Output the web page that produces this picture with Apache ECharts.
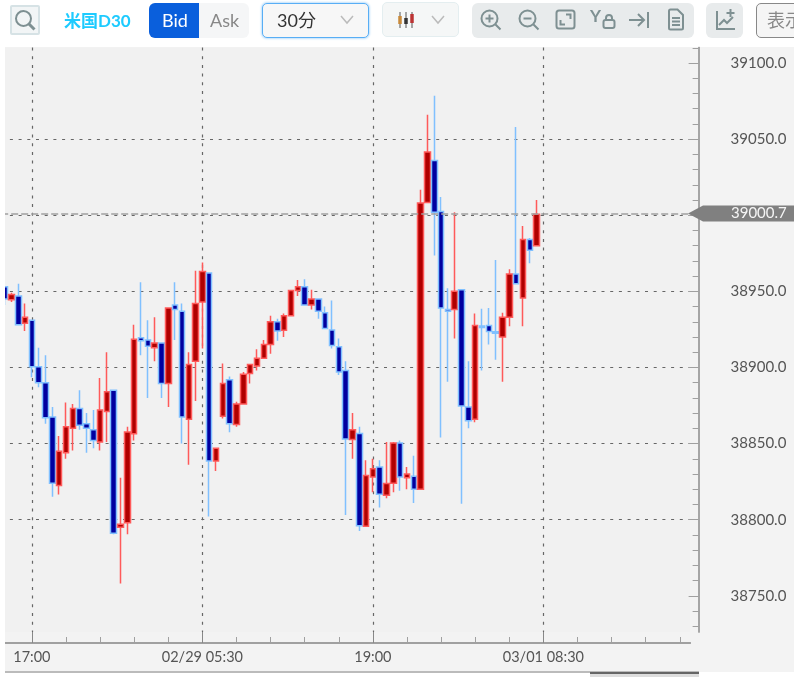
<!DOCTYPE html>
<html>
<head>
<meta charset="utf-8">
<script src="https://cdn.jsdelivr.net/npm/echarts@6/dist/echarts.min.js"></script>
<style>
html, body { margin: 0; padding: 0; background: #fff; overflow: hidden; }
body { width: 794px; height: 677px; position: relative; font-family: Lato, "Noto Sans CJK JP", sans-serif; }
.box { position: absolute; box-sizing: border-box; }
.txt { position: absolute; line-height: 35px; white-space: nowrap; font-size: 18px; }
svg { position: absolute; fill: none; stroke: #7e9092; stroke-width: 2; }
#chart { position: absolute; left: 0; top: 0; width: 794px; height: 677px; }
</style>
</head>
<body>
<div class="box" style="left:0;top:47px;width:794px;height:625px;background:#f3f3f3"></div>
<div id="chart"></div>
<div class="box" style="left:0;top:47px;width:5px;height:630px;background:#fff"></div>
<div class="box" style="left:5px;top:671px;width:694px;height:2px;background:#bbb"></div>
<div class="box" style="left:590px;top:672px;width:109px;height:5px;background:#ddd;border-top:2px solid #666"></div>

<!-- toolbar -->
<div class="box" style="left:10px;top:5px;width:30px;height:30px;background:#f2f5f6;border:2px solid #d6e2e5;border-radius:2px"></div>
<svg style="left:14px;top:9px" width="22" height="22"><circle cx="9.5" cy="9.5" r="7.5"/><path d="M15 15l5.5 5.5" stroke-width="3"/></svg>
<div class="txt" style="left:64px;top:3px;color:#1ecbff;font-weight:700;font-size:17px">米国D30</div>
<div class="box" style="left:149px;top:3px;width:100px;height:35px;background:#f5f6f7;border-radius:6px"></div>
<div class="box" style="left:149px;top:3px;width:50px;height:35px;background:#0a5fdc;border-radius:6px 0 0 6px"></div>
<div class="txt" style="left:162px;top:3px;color:#fff">Bid</div>
<div class="txt" style="left:210px;top:3px;color:#888">Ask</div>
<div class="box" style="left:262px;top:3px;width:107px;height:35px;background:#f7f7f7;border:1px solid #58aef5;border-radius:5px;box-shadow:0 0 2px 1px #bfe0fb"></div>
<div class="txt" style="left:277px;top:3px;color:#333">30分</div>
<svg style="left:340px;top:15px;stroke:#bbb;stroke-width:1.5" width="14" height="10"><path d="M1 1l6 7 6-7"/></svg>
<div class="box" style="left:382px;top:2px;width:77px;height:35px;background:#f5f7f7;border:1px solid #e4eef0;border-radius:5px"></div>
<svg style="left:397px;top:10px" width="18" height="20"><path d="M3 2v16M9 2v16M15 2v16" stroke="#555" stroke-width="1"/><path d="M3 6v8" stroke="#c98a3a" stroke-width="3.5"/><path d="M9 8v6" stroke="#333" stroke-width="3.5"/><path d="M15 4v9" stroke="#b33" stroke-width="3.5"/></svg>
<svg style="left:431px;top:15px;stroke:#bbb;stroke-width:1.5" width="14" height="10"><path d="M1 1l6 7 6-7"/></svg>
<div class="box" style="left:472px;top:3px;width:222px;height:35px;background:#e8ebec;border-radius:6px"></div>
<svg style="left:480px;top:9px" width="22" height="22"><circle cx="9.5" cy="9.5" r="8"/><path d="M15.5 15.5l5 5M5.5 9.5h8M9.5 5.5v8"/></svg>
<svg style="left:518px;top:9px" width="22" height="22"><circle cx="9.5" cy="9.5" r="8"/><path d="M15.5 15.5l5 5M5.5 9.5h8"/></svg>
<svg style="left:555px;top:9px" width="21" height="21"><rect x="1.5" y="1.5" width="18" height="18" rx="2.5"/><path d="M11 5.5h4.5V10M5.5 11v4.5H10"/></svg>
<div class="txt" style="left:590px;top:-2px;color:#7e9092;font-size:17px;font-weight:700">Y</div>
<svg style="left:602px;top:14px" width="14" height="15"><rect x="1.5" y="6" width="11" height="8" rx="2"/><path d="M4 6V4a3 3 0 0 1 6 0v2"/></svg>
<svg style="left:628px;top:10px" width="22" height="20"><path d="M1 10h15M10 4l6 6-6 6M20 2v16"/></svg>
<svg style="left:667px;top:8px" width="18" height="23"><path d="M2 3a1.5 1.5 0 0 1 1.5-1.5h7l5.5 5.5v13a1.5 1.5 0 0 1-1.5 1.5h-11A1.5 1.5 0 0 1 2 20zM5 10h8M5 13.5h8M5 17h8"/></svg>
<div class="box" style="left:706px;top:3px;width:37px;height:35px;background:#e8ebec;border-radius:6px"></div>
<svg style="left:715px;top:8px" width="21" height="23"><path d="M2 3v18h18M4 17l5-5 3 3 6-6M15.5 1v8M11.5 5h8"/></svg>
<div class="box" style="left:756px;top:3px;width:60px;height:35px;background:#f5f5f5;border:1px solid #888;border-radius:5px"></div>
<div class="txt" style="left:767px;top:3px;color:#888">表示</div>

<script>
// 30 minute bars
var opens = [38953,38944.5,38947,38929,38931,38900.5,38890,38867.5,38822.4,38844,38860,38873,38863,38859,38851,38871,38885,38795,38798,38856.5,
  38919.5,38918,38913,38916,38889.5,38941,38937,38866,38904,38943,38962,38838.5,38868,38892,38862.5,38876,38896,38901,38906,38915,
  38930,38924.5,38934,38950.5,38953,38941,38945,38936,38924.6,38913.6,38898,38852.6,38856.6,38795.6,38828,38834.6,38816,38824,38850.4,38827.6,
  38828.5,38820,39008.3,39036,39002.4,38938,38938,38951,38874,38866,38927.2,38927.6,38923.5,38920,38933,38961.4,38945.6,38984,38980];
var closes = [38945,38948,38928,38933,38900.5,38890,38867,38824,38845,38861,38873,38862,38860,38852,38872,38884,38791,38797,38857.6,38918.5,
  38917.5,38914,38916,38889.5,38939,38938,38867.5,38902,38942,38963,38838.6,38847,38889.5,38863,38876,38895.6,38902,38906,38915,38930,
  38924,38934,38950.5,38953,38941,38945,38937,38925.6,38914.5,38897,38853,38859,38796,38829,38833.5,38816.7,38823.7,38850.4,38828,38830,
  38820,39008,39041.5,39002,38939,38937,38950,38874.6,38865,38927.6,38926.3,38923.7,38922.4,38933,38961.4,38955,38984,38977,39000.7];
var lows = [38941,38943,38928,38924,38893.5,38887,38863,38815,38816.5,38840,38845.5,38859,38844,38847,38845.5,38851,38790.5,38758,38790.5,38852,
  38908,38880,38904,38880,38874,38918,38850,38836,38878,38912.5,38802,38832,38866.5,38857.5,38861,38876,38889.5,38898,38906,38909,
  38917.5,38920,38934,38947,38941,38938,38932,38925.6,38912.5,38895,38803,38840,38792.5,38795.6,38818,38808,38814,38818,38819,38820,
  38811,38820,39008.3,38973.5,38854,38890.6,38919,38810.5,38860,38864,38898,38915,38905,38890.6,38927,38955,38927,38968.4,38980];
var highs = [38953,38949,38955,38942,38931,38913,38908,38874,38855,38877,38876,38885,38870,38872,38893,38910,38885.5,38827.5,38861,38928,
  38956,38931,38933,38916,38939,38956,38942,38910,38963.6,38969,38962,38847,38902.6,38894,38877.4,38897,38902,38912,38918,38934,
  38932,38935.5,38950.5,38957.5,38958,38951,38945,38940,38944,38919,38904,38870,38861,38839,38840,38839,38851,38851,38852,38834.6,
  38842,39016.7,39066,39078.5,39012,38952,39002,38951,38904,38935.5,38938.6,38939,38970.6,38936,38964.5,39058,38993,38985,39010];
var lastPrice = 39000.7;
var timeLabels = { 4: '17:00', 29: '02/29 05:30', 54: '19:00', 79: '03/01 08:30' };
var yTicks = [38750, 38800, 38850, 38900, 38950, 39000, 39050, 39100];
var yMinorTicks = [38730,38740,38760,38770,38780,38790,38810,38820,38830,38840,38860,38870,38880,38890,38910,38920,38930,38940,
  38960,38970,38980,38990,39010,39020,39030,39040,39060,39070,39080,39090,39110];
var barCount = 101;

var categories = [];
for (var i = 0; i < barCount; i++) categories.push(timeLabels[i] || String(i));
var candles = opens.map(function (o, i) { return [o, closes[i], lows[i], highs[i]]; });

var yMin = 38726.2, yMax = 39110.2;
var fontName = 'Lato';
var tickGrey = '#a0a0a0';
var isMajor = function (i) { return i % 25 === 4; };

var chart = echarts.init(document.getElementById('chart'));
chart.setOption({
  animation: false,
  grid: { left: 1.2, width: 688.82, top: 47.5, height: 584.5, show: true, backgroundColor: '#f1f1f1', borderWidth: 0 },
  xAxis: [
    {
      type: 'category', data: categories, position: 'bottom', offset: 11,
      axisLine: { show: true, lineStyle: { color: tickGrey, width: 2 } },
      axisTick: { show: true, inside: true, length: 6, alignWithLabel: true, interval: function (i) { return i % 5 === 4; }, lineStyle: { color: tickGrey } },
      axisLabel: { interval: isMajor, margin: 7, color: '#555', fontFamily: fontName, fontSize: 14.5 },
      splitLine: { show: true, alignWithLabel: true, interval: isMajor, lineStyle: { color: '#666', width: 1.2, type: [3, 5.7] } }
    },
    {
      type: 'category', data: categories, position: 'bottom', offset: 11,
      axisLine: { show: true, lineStyle: { color: tickGrey, width: 2 } },
      axisTick: { show: true, inside: true, length: 11, alignWithLabel: true, interval: isMajor, lineStyle: { color: '#888' } },
      axisLabel: { show: false }, splitLine: { show: false }
    }
  ],
  yAxis: [
    {
      type: 'value', position: 'right', offset: 8.6, min: yMin, max: yMax, splitNumber: 8, scale: true,
      axisLine: { show: true, lineStyle: { color: tickGrey, width: 1.5 } },
      axisTick: { show: true, inside: true, length: 10, customValues: yTicks, lineStyle: { color: tickGrey } },
      axisLabel: {
        margin: 32, color: '#555', fontFamily: fontName, fontSize: 15, customValues: yTicks,
        formatter: function (v) { return v.toFixed(1); }
      },
      splitLine: { show: true, showMinLine: false, showMaxLine: false, lineStyle: { color: '#666', width: 1.2, type: [3, 5.7] } }
    },
    {
      type: 'value', position: 'right', offset: 8.6, min: yMin, max: yMax, scale: true,
      axisLine: { show: true, lineStyle: { color: tickGrey, width: 1.5 } },
      axisTick: { show: true, inside: true, length: 6, customValues: yMinorTicks, lineStyle: { color: tickGrey } },
      axisLabel: { show: false }, splitLine: { show: false }
    }
  ],
  series: [{
    type: 'candlestick',
    data: candles,
    barWidth: 6,
    itemStyle: { color: '#b00000', color0: '#0000a0', borderColor: '#ff5a5a', borderColor0: '#80c0ff', borderWidth: 1.5 },
    markLine: {
      silent: true, symbol: 'none', animation: false, label: { show: false },
      lineStyle: { color: '#a0a0a0', type: [7, 3], width: 1.5 },
      data: [{ yAxis: lastPrice }]
    }
  }]
});

// price tag follows the last price on the axis
var tagY = chart.convertToPixel({ yAxisIndex: 0 }, lastPrice) - 0.7;
chart.setOption({
  graphic: [
    {
      type: 'polygon', z: 50, silent: true, x: 688, y: tagY,
      shape: { points: [[0, 0], [15, -8], [106, -8], [106, 8], [15, 8]] },
      style: { fill: '#808080' }
    },
    {
      type: 'text', z: 51, silent: true, x: 731, y: tagY,
      style: { text: lastPrice.toFixed(1), fill: '#f5f5f5', font: '15px Lato', textVerticalAlign: 'middle' }
    }
  ]
});
</script>
</body>
</html>
